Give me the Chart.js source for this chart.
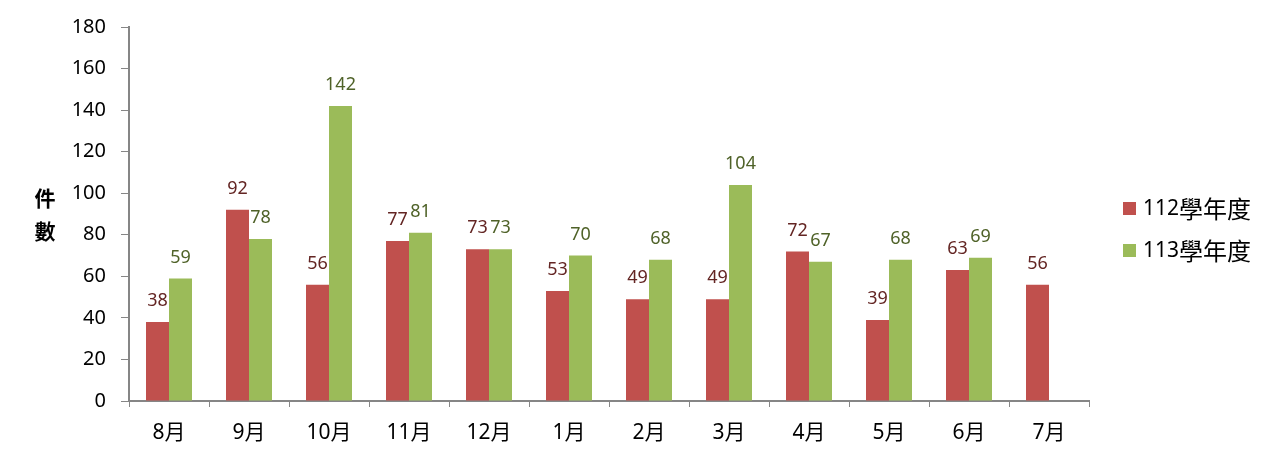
<!DOCTYPE html>
<html>
<head>
<meta charset="utf-8">
<script src="https://cdn.jsdelivr.net/npm/chart.js@4.4.0/dist/chart.umd.min.js"></script>
<style>
  html, body { margin: 0; padding: 0; background: #fff; }
  #wrap { width: 1277px; height: 464px; }
</style>
</head>
<body>
<div id="wrap"><canvas id="grafica"></canvas></div>
<script>
// datos
const meses = ['8月', '9月', '10月', '11月', '12月', '1月', '2月', '3月', '4月', '5月', '6月', '7月'];
const serie112 = [38, 92, 56, 77, 73, 53, 49, 49, 72, 39, 63, 56];
const serie113 = [59, 78, 142, 81, 73, 70, 68, 104, 67, 68, 69, null];
const nombres = ['112學年度', '113學年度'];
const colores = ['#C0504D', '#9BBB59'];
const coloresEtiqueta = ['#632523', '#4F6228'];

const fuente = '"Noto Sans", "Noto Sans CJK TC", sans-serif';

// etiquetas encima de las barras
const etiquetas = {
	id: 'etiquetas',
	afterDatasetsDraw(chart) {
		const ctx = chart.ctx;
		ctx.save();
		ctx.font = '18px ' + fuente;
		ctx.textAlign = 'center';
		ctx.textBaseline = 'middle';
		chart.data.datasets.forEach((ds, i) => {
			const meta = chart.getDatasetMeta(i);
			ctx.fillStyle = coloresEtiqueta[i];
			meta.data.forEach((bar, j) => {
				if (ds.data[j] == null) return;
				ctx.fillText(ds.data[j], bar.x, bar.y - 21);
			});
		});
		ctx.restore();
	}
};

// titulo vertical y leyenda a la derecha
const extras = {
	id: 'extras',
	afterDraw(chart) {
		const ctx = chart.ctx;
		ctx.save();
		ctx.fillStyle = '#000';
		ctx.font = 'bold 21px ' + fuente;
		ctx.textAlign = 'center';
		ctx.textBaseline = 'middle';
		ctx.fillText('件', 45, 200);
		ctx.fillText('數', 45, 233);

		ctx.textAlign = 'left';
		for (let i = 0; i < nombres.length; i++) {
			const y = 209 + i * 42;
			ctx.fillStyle = colores[i];
			ctx.fillRect(1123, y - 7, 13, 13);
			ctx.fillStyle = '#000';
			const num = nombres[i].slice(0, 3);
			const resto = nombres[i].slice(3);
			ctx.font = '21px ' + fuente;
			ctx.fillText(num, 1143, y);
			const w = ctx.measureText(num).width;
			ctx.font = '24px "Noto Sans CJK TC", sans-serif';
			ctx.fillText(resto, 1143 + w, y);
		}
		ctx.restore();
	}
};

new Chart(document.getElementById('grafica'), {
	type: 'bar',
	data: {
		labels: meses,
		datasets: [
			{ label: nombres[0], data: serie112, backgroundColor: colores[0], categoryPercentage: 0.575, barPercentage: 1 },
			{ label: nombres[1], data: serie113, backgroundColor: colores[1], categoryPercentage: 0.575, barPercentage: 1 }
		]
	},
	options: {
		responsive: true,
		maintainAspectRatio: false,
		animation: false,
		layout: { padding: { left: 0, right: 188, top: 25, bottom: 0 } },
		plugins: {
			legend: { display: false },
			tooltip: { enabled: false }
		},
		scales: {
			x: {
				offset: true,
				grid: { offset: true, drawOnChartArea: false, tickLength: 6, color: '#868686' },
				border: { color: '#868686', width: 2 },
				ticks: { color: '#000', font: { family: fuente, size: 21 }, padding: 13 },
				afterFit(scale) { scale.height = 63; }
			},
			y: {
				min: 0,
				max: 180,
				ticks: { stepSize: 20, color: '#000', font: { family: fuente, size: 20 }, padding: 15 },
				grid: { drawOnChartArea: false, tickLength: 8, color: '#868686' },
				border: { color: '#868686', width: 2 },
				afterFit(scale) { scale.width = 129; }
			}
		}
	},
	plugins: [etiquetas, extras]
});
</script>
</body>
</html>
